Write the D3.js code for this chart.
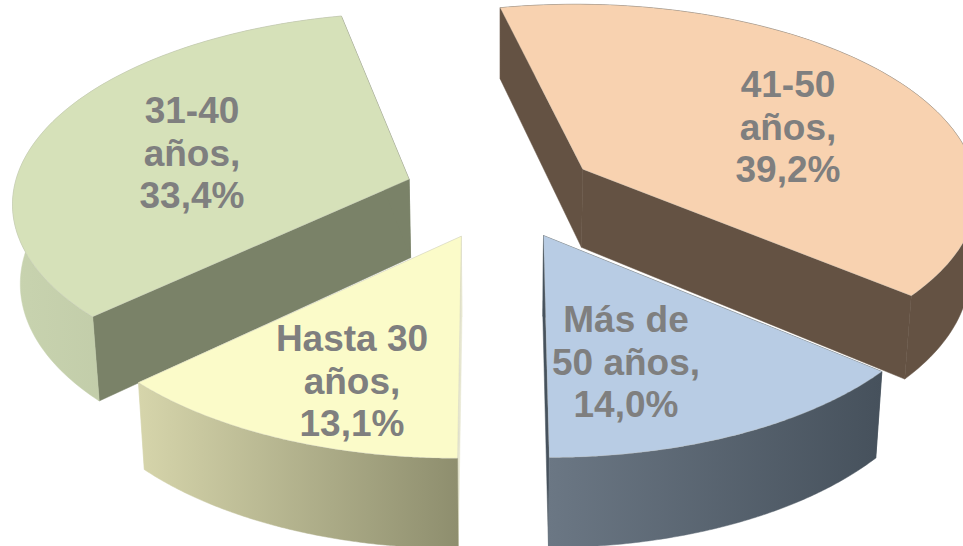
<!DOCTYPE html>
<html>
<head>
<meta charset="utf-8">
<script src="https://cdnjs.cloudflare.com/ajax/libs/d3/7.8.5/d3.min.js"></script>
<style>
  html, body { margin: 0; padding: 0; background: #fff; overflow: hidden; }
  svg { display: block; }
  text { font-family: "Liberation Sans", Arial, sans-serif; font-weight: bold; font-size: 37px; fill: #7f7f7f; }
</style>
</head>
<body>
<svg id="chart" width="963" height="546"></svg>
<script>
// Chart data.
const categories = ['41-50 años', 'Más de 50 años', 'Hasta 30 años', '31-40 años'];
const shares = [39.2, 14.0, 13.1, 33.4];
const shareLabels = ['39,2%', '14,0%', '13,1%', '33,4%'];
const labelLines = [['41-50', 'años,'], ['Más de', '50 años,'], ['Hasta 30', 'años,'], ['31-40', 'años,']];

// Colours per slice, same order as categories.
const topColors = ['#f8d2b0', '#b8cce4', '#fbfbc9', '#d6e1b9'];
const wallColors = ['#645243', '#47525d', '#e6e6d0', '#7a8268'];
const rimLeftColors = ['#645243', '#6b7784', '#d6d5ab', '#c8d3af'];
const rimRightColors = ['#645243', '#46515c', '#8e8e6e', '#b3bd9b'];

// Text centres of the labels and the order slices are painted in.
const labelX = [788, 626, 352, 192];
const labelY = [127, 362, 381, 153];
const paintOrder = [0, 3, 2, 1];

// Plane of the pie seen in perspective.
const tilt = 0.1, explode = 0.245, rimDrop = 0.012, depth = 79, bottomShrink = 0.984;
const startDeg = -12.2;
const xScale = d3.scaleLinear().domain([-1, 1]).range([501 - 396, 501 + 396]);
const yScale = d3.scaleLinear().domain([-1, 1]).range([193 - 188, 193 + 188]);
const centreX = xScale(0);

const persp = v => 1 / (1 - tilt * v);
const project = (u, v) => [xScale(u * persp(v)), yScale(v * persp(v))];
const dropped = (u, v) => {
    const [x, y] = project(u, v);
    return [centreX + (x - centreX) * bottomShrink, y + depth * persp(v)];
};

const pieLayout = d3.pie().sort(null).value(d => d)
    .startAngle(startDeg * Math.PI / 180)
    .endAngle((360 + startDeg) * Math.PI / 180);
const slices = pieLayout(shares);

const svg = d3.select('#chart');
const defs = svg.append('defs');
const line = d3.line();

const gradient = defs.selectAll('linearGradient').data(slices).enter().append('linearGradient')
    .attr('id', (d, i) => 'rim' + i);
gradient.append('stop').attr('offset', '0%').attr('stop-color', (d, i) => rimLeftColors[i]);
gradient.append('stop').attr('offset', '100%').attr('stop-color', (d, i) => rimRightColors[i]);

paintOrder.forEach(i => {
    const s = slices[i];
    const mid = (s.startAngle + s.endAngle) / 2;
    const ou = explode * Math.sin(mid), ov = -explode * Math.cos(mid);
    const rimAt = a => [ou + Math.sin(a), ov - Math.cos(a) + rimDrop];
    const angles = d3.range(0, 121).map(k => s.startAngle + (s.endAngle - s.startAngle) * k / 120);
    const rim = angles.map(rimAt);
    const first = rim[0], last = rim[rim.length - 1];

    const g = svg.append('g').attr('class', 'slice');

    // Two cut faces.
    [first, last].forEach(p => {
        g.append('path')
            .attr('d', line([project(ou, ov), project(p[0], p[1]), dropped(p[0], p[1]), dropped(ou, ov)]) + 'Z')
            .attr('fill', wallColors[i])
            .attr('stroke', wallColors[i])
            .attr('stroke-width', 0.5);
    });

    // Outer curved face.
    const outer = rim.map(p => project(p[0], p[1])).concat(rim.slice().reverse().map(p => dropped(p[0], p[1])));
    g.append('path')
        .attr('d', line(outer) + 'Z')
        .attr('fill', `url(#rim${i})`)
        .attr('stroke', `url(#rim${i})`)
        .attr('stroke-width', 0.5);

    // Top face.
    const top = [project(ou, ov)].concat(rim.map(p => project(p[0], p[1])));
    g.append('path')
        .attr('d', line(top) + 'Z')
        .attr('fill', topColors[i])
        .attr('stroke', '#b5b5b0')
        .attr('stroke-opacity', 0.35)
        .attr('stroke-width', 0.8);
});

// Labels go over everything.
categories.forEach((c, i) => {
    const rows = labelLines[i].concat(shareLabels[i]);
    const label = svg.append('text')
        .attr('text-anchor', 'middle')
        .attr('y', labelY[i]);
    rows.forEach((row, r) => {
        label.append('tspan')
            .attr('x', labelX[i])
            .attr('dy', r === 0 ? '-0.8em' : '1.14em')
            .text(row);
    });
});
</script>
</body>
</html>
